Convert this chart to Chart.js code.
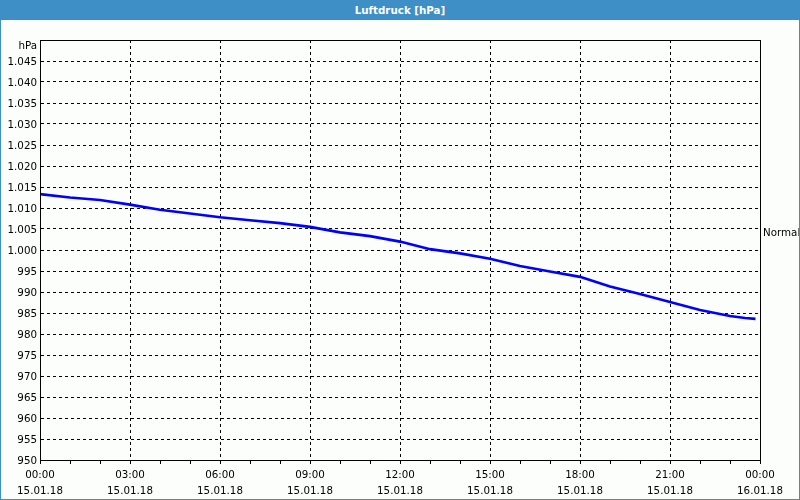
<!DOCTYPE html>
<html>
<head>
<meta charset="utf-8">
<script src="https://cdn.jsdelivr.net/npm/chart.js@4"></script>
<style>
html,body{margin:0;padding:0;background:#fcfefc;}
#wrap{width:800px;height:500px;box-sizing:border-box;border:1px solid #3d8fc6;border-top:none;background:#fcfefc;position:relative;}
#title{height:20px;margin:0 -1px;background:#3d8fc6;color:#fff;font:bold 10.3px "DejaVu Sans";text-align:center;line-height:21px;}
#box{width:798px;height:479px;position:relative;}
</style>
</head>
<body>
<div id="wrap">
<div id="title">Luftdruck [hPa]</div>
<div id="box"><canvas id="c" width="798" height="479"></canvas></div>
</div>
<script>
// hours since 15.01.18 00:00
const hours = [0,1,2,3,4,5,6,7,8,9,10,11,12,13,14,15,16,17,18,19,20,21,22,23,23.5,23.85];
const pressure = [1013.3,1012.5,1011.9,1010.8,1009.6,1008.7,1007.8,1007.1,1006.4,1005.5,1004.2,1003.3,1002.0,1000.2,999.2,997.9,996.2,994.9,993.6,991.3,989.5,987.6,985.7,984.3,983.8,983.6];
const timeLabels = ['00:00','03:00','06:00','09:00','12:00','15:00','18:00','21:00','00:00'];
const dateLabels = ['15.01.18','15.01.18','15.01.18','15.01.18','15.01.18','15.01.18','15.01.18','15.01.18','16.01.18'];
const yMin = 950, yMax = 1050, yStep = 5;
const normalValue = 1004;
const normalLabel = 'Normal';
const unitLabel = 'hPa';

const FONT = {family:'DejaVu Sans', size:10.3, lineHeight:1.6};

function fmt(v){
  if (v >= 1000) return '1.' + String(Math.round(v-1000)).padStart(3,'0');
  return String(v);
}

const framePlugin = {
  id:'frame',
  afterDraw(chart){
    const a = chart.chartArea, ctx = chart.ctx;
    ctx.save();
    ctx.strokeStyle = '#000';
    ctx.lineWidth = 1;
    ctx.setLineDash([]);
    ctx.strokeRect(Math.round(a.left)+0.5, Math.round(a.top)+0.5, Math.round(a.right-a.left), Math.round(a.bottom-a.top));
    ctx.fillStyle = '#000';
    ctx.font = '10.3px "DejaVu Sans"';
    ctx.textAlign = 'right';
    ctx.textBaseline = 'middle';
    ctx.fillText(unitLabel, a.left - 3, a.top + 6);
    ctx.restore();
  }
};

new Chart(document.getElementById('c'), {
  type:'line',
  data:{
    datasets:[{
      data: hours.map((h,i)=>({x:h, y:pressure[i]})),
      borderColor:'#0000ff',
      borderWidth:2.6,
      pointRadius:0,
      tension:0,
      fill:false
    }]
  },
  options:{
    responsive:false,
    animation:false,
    events:[],
    layout:{padding:{top:20,left:0,right:0,bottom:0}},
    plugins:{legend:{display:false},tooltip:{enabled:false}},
    scales:{
      x:{
        type:'linear', min:0, max:24,
        afterBuildTicks(s){ s.ticks = []; for(let h=0;h<=24;h++) s.ticks.push({value:h}); },
        afterFit(s){ s.height = 39; },
        ticks:{
          autoSkip:false, maxRotation:0, padding:3, color:'#000', font:FONT,
          callback(v){ if (v%3===0){ const i=v/3; return [timeLabels[i], dateLabels[i]]; } return ''; }
        },
        grid:{
          color(ctx){ return (ctx.tick && ctx.tick.value%3===0) ? '#000' : 'rgba(0,0,0,0)'; },
          tickColor:'#000', tickLength:4, lineWidth:1
        },
        border:{display:true, color:'#000', dash:[3,3]}
      },
      y:{
        type:'linear', min:yMin, max:yMax,
        afterBuildTicks(s){ s.ticks=[]; for(let v=yMin; v<=yMax; v+=yStep) s.ticks.push({value:v}); },
        afterFit(s){ s.width = 39; },
        ticks:{
          autoSkip:false, padding:3, labelOffset:1.5, color:'#000', font:FONT,
          callback(v){ return v===yMax ? '' : fmt(v); }
        },
        grid:{color:'#000', drawTicks:false, lineWidth:1},
        border:{display:true, color:'#000', dash:[3,3]}
      },
      y2:{
        type:'linear', position:'right', min:yMin, max:yMax,
        afterBuildTicks(s){ s.ticks=[{value:normalValue}]; },
        afterFit(s){ s.width = 39; },
        ticks:{autoSkip:false, padding:3, color:'#000', font:FONT, callback(){ return normalLabel; }},
        grid:{drawOnChartArea:false, drawTicks:false},
        border:{display:false}
      }
    }
  },
  plugins:[framePlugin]
});
</script>
</body>
</html>
